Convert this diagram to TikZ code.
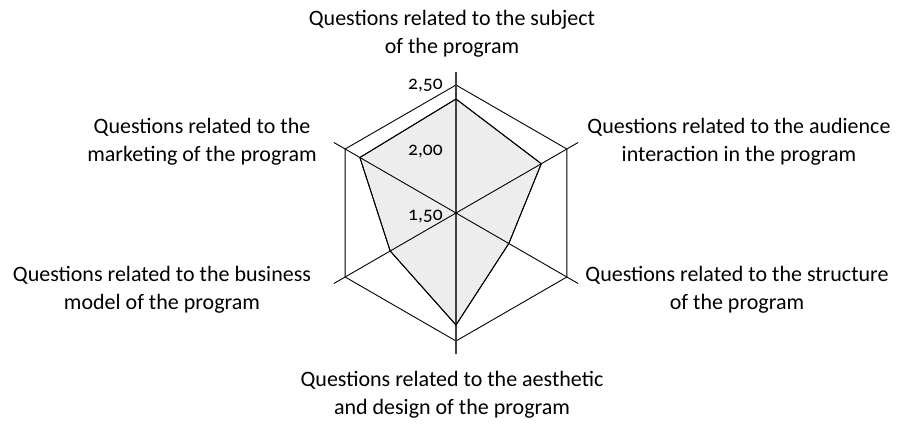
\documentclass[tikz,border=0pt]{standalone}
\usepackage{fontspec}
\setmainfont{Carlito}[Numbers=OldStyle]
\usetikzlibrary{calc}
\begin{document}
\begin{tikzpicture}[x=1pt,y=-1pt,
  grid/.style={draw=black,line width=0.9pt},
  axis/.style={draw=black!75,line width=1.2pt},
  datapoly/.style={fill=black!7,draw=black,line width=0.9pt,line join=miter},
  catlabel/.style={align=center,anchor=north,inner sep=0pt,font=\fontsize{22}{28.5}\selectfont},
  vallabel/.style={anchor=base west,inner sep=0pt,font=\fontsize{19.5}{20}\selectfont}]
\useasboundingbox (0,0) rectangle (898,428);
\coordinate (o) at (456,213);
% the y axis points down, so screen angles are negated
% hexagon corners (value 2,50)
\foreach \a/\n in {90/h1,30/h2,-30/h3,-90/h4,-150/h5,150/h6}
  \coordinate (\n) at ($(o)+(-\a:128)$);
% axis ends
\foreach \a/\n in {90/e1,30/e2,-30/e3,-90/e4,-150/e5,150/e6}
  \coordinate (\n) at ($(o)+(-\a:141)$);
% scores (centre 1,50, outer ring 2,50)
\coordinate (p1) at ($(o)+(-90:114)$);
\coordinate (p2) at ($(o)+(-30:98.5)$);
\coordinate (p3) at ($(o)+(30:61)$);
\coordinate (p4) at ($(o)+(90:112)$);
\coordinate (p5) at ($(o)+(150:76)$);
\coordinate (p6) at ($(o)+(-150:111)$);
\path[datapoly] (p1) -- (p2) -- (p3) -- (p4) -- (p5) -- (p6) -- cycle;
\draw[grid] (h1) -- (h2) -- (h3) -- (h4) -- (h5) -- (h6) -- cycle;
\draw[axis] (e1) -- (e4);
\draw[grid] (e2) -- (e5);
\draw[grid] (e3) -- (e6);
\draw[draw=black,line width=0.9pt] (p1) -- (p2) -- (p3) -- (p4) -- (p5) -- (p6) -- cycle;
% scale values
\node[vallabel] (v250) at (408,90) {2,50};
\node[vallabel] (v200) at (408,156) {2,00};
\node[vallabel] (v150) at (408,220) {1,50};
% category labels
\node[catlabel] (c1) at (452,10) {Questions related to the subject\\of the program};
\node[catlabel] (c2) at (739,118) {Questions related to the audience\\interaction in the program};
\node[catlabel] (c3) at (737,266) {Questions related to the structure\\of the program};
\node[catlabel] (c4) at (452,371) {Questions related to the aesthetic\\and design of the program};
\node[catlabel] (c5) at (162,266) {Questions related to the business\\model of the program};
\node[catlabel] (c6) at (202,118) {Questions related to the\\marketing of the program};
\end{tikzpicture}
\end{document}
